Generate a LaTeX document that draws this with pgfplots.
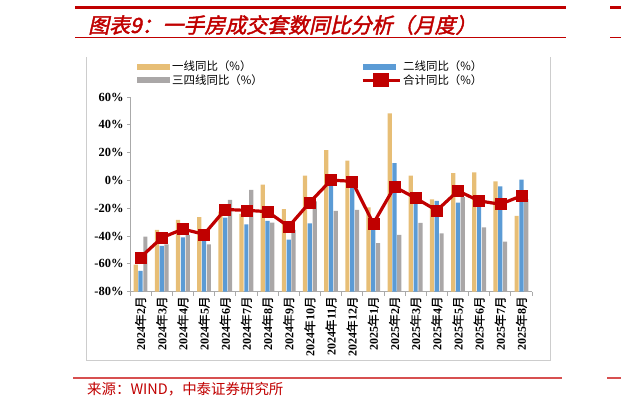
\documentclass[border=0pt]{standalone}
\usepackage{pgfplots}
\pgfplotsset{compat=1.18}
\usepackage{pgfplotstable}
\usepackage{fontspec}
\setmainfont{Liberation Serif}
\newfontfamily\cjk{Noto Sans CJK SC}
\newfontfamily\cjkb{Noto Sans CJK SC}[FakeBold=1.2]
\newfontfamily\titlefont{Noto Sans CJK SC}[FakeBold=2,FakeSlant=0.22]
\definecolor{gold}{RGB}{231,190,118}
\definecolor{sblue}{RGB}{91,155,213}
\definecolor{sgray}{RGB}{170,167,167}
\definecolor{dred}{RGB}{192,0,0}
\definecolor{lred}{RGB}{215,80,80}
\definecolor{framec}{RGB}{205,205,205}
\definecolor{axisc}{RGB}{170,170,170}

\newcommand\ym[2]{#1{\cjkb\mdseries 年}#2{\cjkb\mdseries 月}}

% x: month index, a: tier-1, b: tier-2, c: tier-3/4, t: total (YoY %)
\pgfplotstableread{
x  a      b      c      t
0  -60.5  -65.0  -40.4  -55.3
1  -35.5  -47.0  -46.0  -41.2
2  -28.3  -41.0  -39.2  -35.0
3  -26.4  -42.0  -45.9  -38.7
4  -22.4  -26.7  -13.9  -20.9
5  -24.0  -31.5  -6.7   -21.5
6  -3.0   -29.1  -30.3  -22.4
7  -20.7  -42.5  -35.5  -33.2
8  3.4    -30.8  -15.0  -15.7
9  21.8   -4.0   -21.9  0.2
10 14.2   -1.0   -21.2  -0.6
11 -19.3  -35.6  -45.0  -31.0
12 48.3   12.5   -39.2  -4.6
13 3.4    -15.0  -30.5  -12.7
14 -13.7  -14.7  -38.0  -21.6
15 5.3    -15.9  -12.0  -7.5
16 5.8    -16.0  -33.7  -14.7
17 -0.7   -4.3   -44.0  -17.1
18 -25.5  0.5    -13.5  -11.1
}\data

\begin{document}
\begin{tikzpicture}[x=1bp,y=1bp]
\useasboundingbox (0,0) rectangle (621,409);
% header and footer rules
\draw[dred,line width=2.6bp] (75,401.5) -- (566,401.5);
\draw[dred,line width=2.6bp] (610,401.5) -- (621,401.5);
\draw[dred,line width=0.9bp] (75,371.5) -- (566,371.5);
\draw[dred,line width=0.9bp] (610,371.5) -- (621,371.5);
\node[anchor=west,inner sep=0,text=dred,font=\titlefont\fontsize{21}{21}\selectfont] at (88,384) {图表9：一手房成交套数同比分析（月度）};
\draw[framec,line width=0.8bp] (86,352) -- (86,49) -- (550,49) -- (550,352);
\draw[lred,line width=1.1bp] (73,31) -- (562,31);
\draw[lred,line width=1.1bp] (607,31) -- (621,31);
\node[anchor=west,inner sep=0,text=dred,font=\cjk\fontsize{14.5}{14.5}\selectfont] at (87,20) {来源：WIND，中泰证券研究所};

\begin{axis}[
  at={(130bp,117.3bp)}, anchor=south west,
  scale only axis, width=402bp, height=194.7bp,
  xmin=-0.5, xmax=18.5, ymin=0, ymax=140,
  clip=false,
  axis lines=left,
  axis line style={-, draw=axisc, line width=0.8bp},
  tick style={draw=axisc, line width=0.8bp},
  tick align=outside,
  major tick length=3bp, minor tick length=4bp,
  xtick={0,...,18},
  major x tick style={draw=none},
  minor xtick={-0.5,0.5,...,18.5},
  xticklabels={\ym{2024}{2},\ym{2024}{3},\ym{2024}{4},\ym{2024}{5},\ym{2024}{6},\ym{2024}{7},\ym{2024}{8},\ym{2024}{9},\ym{2024}{10},\ym{2024}{11},\ym{2024}{12},\ym{2025}{1},\ym{2025}{2},\ym{2025}{3},\ym{2025}{4},\ym{2025}{5},\ym{2025}{6},\ym{2025}{7},\ym{2025}{8}},
  xticklabel style={rotate=90, anchor=east, inner sep=1.5bp, font=\bfseries\fontsize{12}{12}\selectfont},
  ytick={0,20,...,140},
  yticklabels={-80\%,-60\%,-40\%,-20\%,0\%,20\%,40\%,60\%},
  yticklabel style={font=\bfseries\fontsize{12.5}{12.5}\selectfont},
  legend columns=2,
  legend cell align=left,
  legend style={draw=none, fill=none, at={(0.01,1.207)}, anchor=north west,
    font=\cjk\fontsize{11.5}{13}\selectfont, row sep=-1.5bp,
    /tikz/every even column/.append style={column sep=96bp}},
]
\addplot[ybar, fill=gold, draw=none, bar width=4.2bp, bar shift=-4.8bp,
  legend image code/.code={\fill[gold] (0bp,-3bp) rectangle (33bp,3bp);}]
  table[x=x, y expr=\thisrow{a}+80] {\data};
\addlegendentry{一线同比（\%）}
\addplot[ybar, fill=sblue, draw=none, bar width=4.2bp, bar shift=0bp,
  legend image code/.code={\fill[sblue] (0bp,-3bp) rectangle (33bp,3bp);}]
  table[x=x, y expr=\thisrow{b}+80] {\data};
\addlegendentry{二线同比（\%）}
\addplot[ybar, fill=sgray, draw=none, bar width=4.2bp, bar shift=4.8bp,
  legend image code/.code={\fill[sgray] (0bp,-3bp) rectangle (33bp,3bp);}]
  table[x=x, y expr=\thisrow{c}+80] {\data};
\addlegendentry{三四线同比（\%）}
\addplot[dred, line width=3.2bp, mark=square*, mark size=5.5bp, mark options={solid, fill=dred, line width=0.5bp},
  legend image code/.code={\draw[dred,line width=3.2bp] (0bp,0bp) -- (37bp,0bp); \fill[dred] (12.5bp,-5.5bp) rectangle (24.5bp,5.5bp);}]
  table[x=x, y expr=\thisrow{t}+80] {\data};
\addlegendentry{合计同比（\%）}
\end{axis}
\end{tikzpicture}
\end{document}
